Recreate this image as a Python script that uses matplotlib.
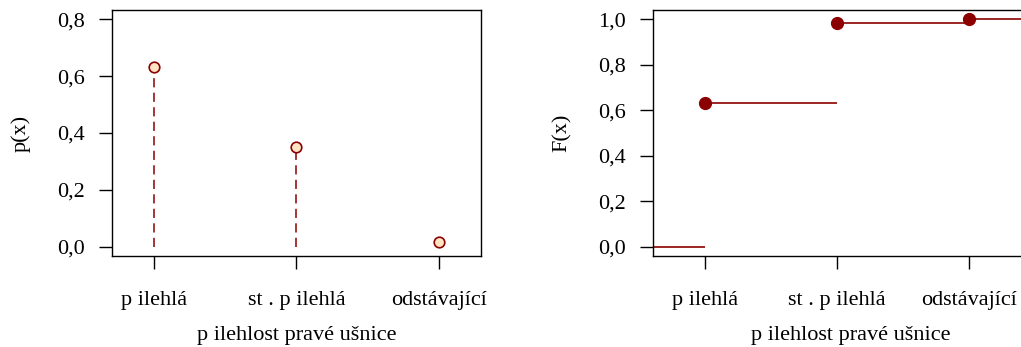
import matplotlib
matplotlib.use('Agg')
import matplotlib.pyplot as plt

# data
categories = ['p ilehlá', 'st . p ilehlá', 'odstávající']
positions = [1, 2, 3]
p_values = [0.633, 0.351, 0.016]
F_values = [0.633, 0.984, 1.0]
xlabel = 'p ilehlost pravé ušnice'

plt.rcParams['font.family'] = ['Liberation Serif', 'DejaVu Serif']
plt.rcParams['font.size'] = 16

dark = '#8B0000'

fig = plt.figure(figsize=(10.21, 3.47), dpi=100)

# --- left panel: probability function
ax1 = fig.add_axes([0.1097, 0.2622, 0.3614, 0.709])
for x, p in zip(positions, p_values):
    ax1.plot([x, x], [0, p], color=dark, lw=1.1, dashes=(6, 3.5))
ax1.plot(positions, p_values, 'o', ms=7.6, mfc='#FFE4C4', mec=dark, mew=1.2, zorder=3)
ax1.set_xlim(0.704, 3.296)
ax1.set_ylim(-0.032, 0.832)
ax1.set_yticks([0, 0.2, 0.4, 0.6, 0.8])
ax1.set_yticklabels(['0,0', '0,2', '0,4', '0,6', '0,8'])
ax1.set_ylabel('p(x)', labelpad=19)

# --- right panel: distribution function (step)
ax2 = fig.add_axes([0.6393, 0.2622, 0.3870, 0.709])
xmin, xmax = 0.6, 3.6
ax2.hlines(0, xmin, positions[0], color=dark, lw=1.2)
edges = positions[1:] + [xmax]
for x0, x1, f in zip(positions, edges, F_values):
    ax2.hlines(f, x0, x1, color=dark, lw=1.2)
ax2.plot(positions, F_values, 'o', ms=8.5, color=dark, zorder=3)
ax2.set_xlim(xmin, xmax)
ax2.set_ylim(-0.04, 1.04)
ax2.set_yticks([0, 0.2, 0.4, 0.6, 0.8, 1.0])
ax2.set_yticklabels(['0,0', '0,2', '0,4', '0,6', '0,8', '1,0'])
ax2.set_ylabel('F(x)', labelpad=19)

for ax in (ax1, ax2):
    ax.set_xticks(positions)
    ax.set_xticklabels(categories)
    ax.set_xlabel(xlabel, labelpad=11)
    ax.tick_params(direction='out', length=9.5, width=1.0, color='black')
    ax.tick_params(axis='x', pad=16)
    ax.tick_params(axis='y', pad=10)
    for s in ax.spines.values():
        s.set_linewidth(1.0)

fig.savefig('out.png', dpi=100)
